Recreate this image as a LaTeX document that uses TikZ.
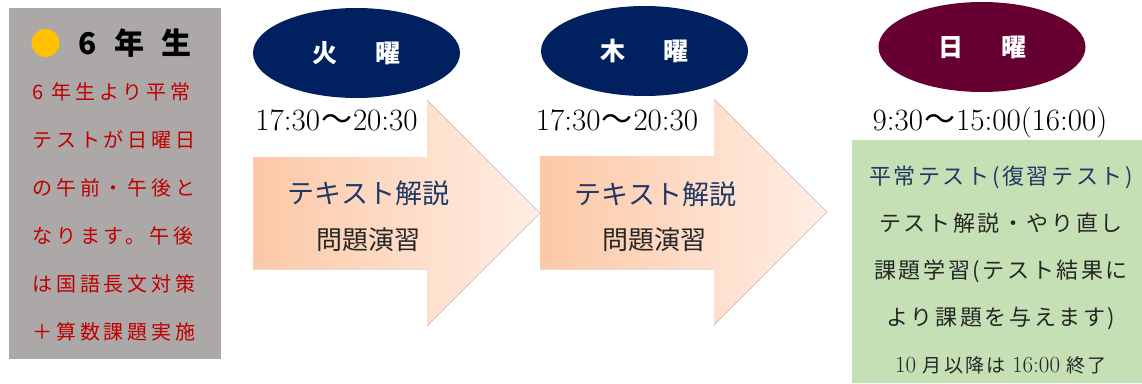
\documentclass[tikz,border=0pt]{standalone}
\usepackage{fontspec}
\usepackage{tikz}
\usetikzlibrary{shapes.geometric, positioning}
\newfontfamily\jpfont{Noto Sans CJK JP}
\newfontfamily\jpwide[LetterSpace=19]{Noto Sans CJK JP}
\newfontfamily\jpmid[LetterSpace=12]{Noto Sans CJK JP}
\definecolor{daynavy}{RGB}{0, 32, 96}
\definecolor{daymaroon}{RGB}{102, 0, 51}
\definecolor{panelgray}{RGB}{172, 168, 168}
\definecolor{panelgreen}{RGB}{197, 224, 180}
\definecolor{notered}{RGB}{192, 0, 0}
\definecolor{dotyellow}{RGB}{255, 192, 0}
\definecolor{textnavy}{RGB}{31, 56, 100}
\definecolor{textdark}{RGB}{38, 38, 38}
\definecolor{peachleft}{RGB}{252, 200, 166}
\definecolor{peachright}{RGB}{255, 238, 229}

\begin{document}
\begin{tikzpicture}[
    x=1pt, y=-1pt,
    panel/.style={inner sep=0pt, anchor=north west},
    dayoval/.style={ellipse, inner sep=0pt, minimum width=207pt, minimum height=90pt, text=white, font=\jpfont\bfseries\fontsize{25}{28}\selectfont},
    timelabel/.style={inner sep=0pt, anchor=base, font=\fontsize{31}{34}\selectfont},
    lesson/.style={inner sep=0pt, text=textnavy, font=\jpfont\fontsize{27}{30}\selectfont},
    drill/.style={inner sep=0pt, text=textdark, font=\jpfont\fontsize{26}{30}\selectfont},
    flow/.style={left color=peachleft, right color=peachright, draw=none}
]
    \useasboundingbox (0,0) rectangle (1142,383);

    % --- 6TH GRADE PANEL ---
    \node[panel, fill=panelgray, minimum width=212pt, minimum height=351pt] (grade) at (9,8) {};
    \fill[dotyellow] (45.5,43) circle (14);
    \node[inner sep=0pt, font=\jpfont\bfseries\fontsize{30}{34}\selectfont] (gradetitle) at (135,43) {6\hspace{17pt}年\hspace{17pt}生};
    \node[inner sep=0pt, anchor=north, align=left, text=notered, font=\jpwide\fontsize{20}{48}\selectfont] (gradenote) at (114,82) {
        6 年生より平常\\
        テストが日曜日\\
        の午前・午後と\\
        なります。午後\\
        は国語長文対策\\
        ＋算数課題実施
    };

    % --- TUESDAY ---
    \node[dayoval, fill=daynavy] (tue) at (356.5,53) {火\hspace{38pt}曜};
    \node[timelabel] (tuetime) at (336.5,130) {17:30\hspace{1pt}{\jpfont ～}\hspace{1pt}20:30};
    \fill[flow] (253,157) -- (427,157) -- (427,100) -- (540,213) -- (427,326) -- (427,269) -- (253,269) -- cycle;
    \node[lesson] (tuetext) at (368.5,193) {テキスト解説};
    \node[drill] (tuedrill) at (368.5,240) {問題演習};

    % --- THURSDAY ---
    \node[dayoval, fill=daynavy] (thu) at (644.5,51) {木\hspace{38pt}曜};
    \node[timelabel] (thutime) at (617,130) {17:30\hspace{1pt}{\jpfont ～}\hspace{1pt}20:30};
    \fill[flow] (540,156) -- (714,156) -- (714,99) -- (827,212) -- (714,325) -- (714,269) -- (540,269) -- cycle;
    \node[lesson] (thutext) at (655.5,194) {テキスト解説};
    \node[drill] (thudrill) at (654.5,240) {問題演習};

    % --- SUNDAY ---
    \node[dayoval, fill=daymaroon] (sun) at (982,47) {日\hspace{38pt}曜};
    \node[timelabel] (suntime) at (990,130) {9:30\hspace{1pt}{\jpfont ～}\hspace{1pt}15:00(16:00)};
    \node[panel, fill=panelgreen, minimum width=290pt, minimum height=243pt] (sunpanel) at (852,140) {};
    \node[inner sep=0pt, anchor=north, align=center, text=textdark, font=\jpmid\fontsize{22}{47}\selectfont] (sunplan) at (1001,166) {
        \textcolor{textnavy}{平常テスト(復習テスト)}\\
        テスト解説・やり直し\\
        課題学習(テスト結果に\\
        より課題を与えます)\\
        {\fontsize{19}{47}\selectfont{\rmfamily\fontsize{23}{47}\selectfont 10} 月以降は {\rmfamily\fontsize{23}{47}\selectfont 16:00} 終了}
    };

\end{tikzpicture}
\end{document}
